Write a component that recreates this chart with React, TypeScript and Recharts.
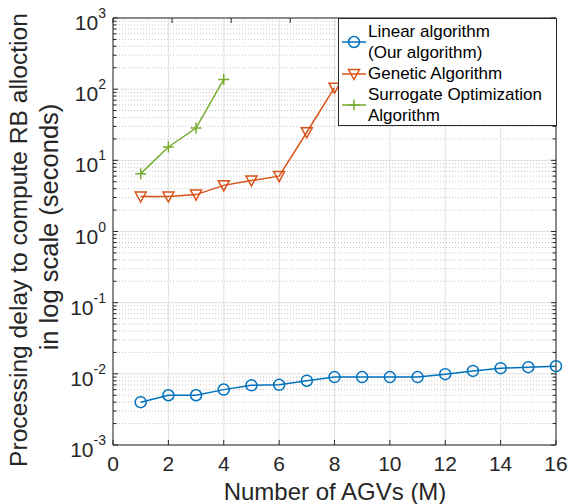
import React from 'react';
import { LineChart, Line, XAxis, YAxis, CartesianGrid, Legend } from 'recharts';

// processing delay (seconds) per number of AGVs
const agvCounts = [1, 2, 3, 4, 5, 6, 7, 8, 9, 10, 11, 12, 13, 14, 15, 16];
const linearDelay = [0.004, 0.005, 0.005, 0.006, 0.0069, 0.007, 0.008, 0.009, 0.009, 0.009, 0.009, 0.0099, 0.011, 0.012, 0.0124, 0.0128];
const geneticDelay = [3.1, 3.1, 3.3, 4.45, 5.2, 6.0, 24.8, 105];
const surrogateDelay = [6.5, 15.4, 28.4, 137];

const xTicks = [0, 2, 4, 6, 8, 10, 12, 14, 16];
const yExponents = [-3, -2, -1, 0, 1, 2, 3];
const minorSteps = [2, 3, 4, 5, 6, 7, 8, 9];

const legendLines = [
  ['Linear algorithm', '(Our algorithm)'],
  ['Genetic Algorithm'],
  ['Surrogate Optimization', 'Algorithm'],
];

const BLUE = '#0072BD';
const RED = '#D95319';
const GREEN = '#77AC30';
const AX = '#262626';
const FONT = '"Liberation Sans", Arial, Helvetica, sans-serif';

const majorY = yExponents.map((e) => Math.pow(10, e));
const minorY = yExponents.slice(0, -1).flatMap((e) => minorSteps.map((m) => m * Math.pow(10, e)));
const allY = [...majorY, ...minorY].sort((a, b) => a - b);

const data = agvCounts.map((m, i) => ({
  m,
  linear: linearDelay[i],
  genetic: geneticDelay[i],
  surrogate: surrogateDelay[i],
}));

const isMajor = (v: number) => Math.abs(Math.log10(v) - Math.round(Math.log10(v))) < 1e-6;

function Marker({ kind, cx, cy, color }: { kind: string; cx: number; cy: number; color: string }) {
  if (kind === 'circle') {
    return <circle cx={cx} cy={cy} r={5.5} fill="none" stroke={color} strokeWidth={1.5} />;
  }
  if (kind === 'tri') {
    return (
      <path
        d={`M${cx - 5.5},${cy - 4.5}L${cx + 5.5},${cy - 4.5}L${cx},${cy + 5.5}Z`}
        fill="none"
        stroke={color}
        strokeWidth={1.5}
      />
    );
  }
  return (
    <g stroke={color} strokeWidth={1.5}>
      <line x1={cx - 5.5} x2={cx + 5.5} y1={cy} y2={cy} />
      <line x1={cx} x2={cx} y1={cy - 5.5} y2={cy + 5.5} />
    </g>
  );
}

const dotOf = (kind: string, color: string) => (p: any) => {
  if (p.cx == null || p.cy == null || p.value == null) return <g key={p.index} />;
  return (
    <g key={p.index}>
      <Marker kind={kind} cx={p.cx} cy={p.cy} color={color} />
    </g>
  );
};

function LeftTick({ x, y, payload }: any) {
  const v = payload.value;
  const major = isMajor(v);
  const e = Math.round(Math.log10(v));
  return (
    <g>
      <line x1={x} x2={x + (major ? 5 : 3.5)} y1={y} y2={y} stroke={AX} />
      {major && (
        <text x={x - 7} y={y + 12} textAnchor="end" fill={AX} fontSize={21} fontFamily={FONT}>
          10<tspan dy={-12} fontSize={14}>{String(e)}</tspan>
        </text>
      )}
    </g>
  );
}

function RightTick({ x, y, payload }: any) {
  const major = isMajor(payload.value);
  return <line x1={x - (major ? 5 : 3.5)} x2={x} y1={y} y2={y} stroke={AX} />;
}

function BottomTick({ x, y, payload }: any) {
  return (
    <g>
      <line x1={x} x2={x} y1={y - 5} y2={y} stroke={AX} />
      <text x={x} y={y + 26} textAnchor="middle" fill={AX} fontSize={21} fontFamily={FONT}>
        {payload.value}
      </text>
    </g>
  );
}

function TopTick({ x, y }: any) {
  return <line x1={x} x2={x} y1={y} y2={y + 5} stroke={AX} />;
}

function LegendBox() {
  const kinds = [
    { kind: 'circle', color: BLUE },
    { kind: 'tri', color: RED },
    { kind: 'plus', color: GREEN },
  ];
  return (
    <div
      style={{
        background: '#fff',
        border: `1px solid ${AX}`,
        boxSizing: 'border-box',
        width: 219,
        height: 108,
        paddingTop: 2,
        fontFamily: FONT,
        fontSize: 17,
        lineHeight: '21px',
        color: '#000',
      }}
    >
      {legendLines.map((lines, i) => (
        <div key={i} style={{ display: 'flex', alignItems: 'center' }}>
          <svg width={29} height={14} style={{ flex: 'none' }}>
            <line x1={3} x2={27} y1={7} y2={7} stroke={kinds[i].color} strokeWidth={1.5} />
            <Marker kind={kinds[i].kind} cx={15} cy={7} color={kinds[i].color} />
          </svg>
          <div style={{ whiteSpace: 'nowrap' }}>
            {lines.map((t) => (
              <div key={t}>{t}</div>
            ))}
          </div>
        </div>
      ))}
    </div>
  );
}

export default function App() {
  return (
    <div style={{ position: 'absolute', left: 0, top: 0, width: 569, height: 504, background: '#fff' }}>
      <LineChart width={569} height={504} data={data} margin={{ top: 17, right: 0, bottom: 0, left: 0 }}>
        <CartesianGrid
          horizontalValues={minorY}
          vertical={false}
          stroke="#c4c4c4"
          strokeDasharray="1 2"
        />
        <CartesianGrid horizontalValues={majorY} verticalValues={xTicks} stroke="#e0e0e0" />
        <XAxis
          dataKey="m"
          type="number"
          domain={[0, 16]}
          ticks={xTicks}
          interval={0}
          height={59}
          tickSize={0}
          tickMargin={0}
          tick={<BottomTick />}
          axisLine={{ stroke: AX }}
        />
        <XAxis
          xAxisId="top"
          orientation="top"
          type="number"
          domain={[0, 16]}
          ticks={xTicks}
          interval={0}
          height={1}
          tickSize={0}
          tickMargin={0}
          tick={<TopTick />}
          axisLine={{ stroke: AX }}
        />
        <YAxis
          type="number"
          scale="log"
          domain={[0.001, 1000]}
          allowDataOverflow
          ticks={allY}
          interval={0}
          width={113}
          tickSize={0}
          tickMargin={0}
          tick={<LeftTick />}
          axisLine={{ stroke: AX }}
        />
        <YAxis
          yAxisId="right"
          orientation="right"
          type="number"
          scale="log"
          domain={[0.001, 1000]}
          allowDataOverflow
          ticks={allY}
          interval={0}
          width={13}
          tickSize={0}
          tickMargin={0}
          tick={<RightTick />}
          axisLine={{ stroke: AX }}
        />
        <Line
          dataKey="linear"
          stroke={BLUE}
          strokeWidth={1.5}
          dot={dotOf('circle', BLUE)}
          isAnimationActive={false}
        />
        <Line
          dataKey="genetic"
          stroke={RED}
          strokeWidth={1.5}
          dot={dotOf('tri', RED)}
          isAnimationActive={false}
        />
        <Line
          dataKey="surrogate"
          stroke={GREEN}
          strokeWidth={1.5}
          dot={dotOf('plus', GREEN)}
          isAnimationActive={false}
        />
        <Legend
          layout="horizontal"
          verticalAlign="middle"
          align="center"
          content={() => <LegendBox />}
          wrapperStyle={{ left: 338, top: 18, width: 219, height: 108 }}
        />
      </LineChart>
      <svg
        width={569}
        height={504}
        style={{ position: 'absolute', left: 0, top: 0, pointerEvents: 'none' }}
      >
        <g fill={AX} fontFamily={FONT} textAnchor="middle">
          <text x={27} y={240} fontSize={24.6} transform="rotate(-90 27 240)">
            Processing delay to compute RB alloction
          </text>
          <text x={58} y={227} fontSize={25.5} transform="rotate(-90 58 227)">
            in log scale (seconds)
          </text>
          <text x={335} y={500} fontSize={24}>Number of AGVs (M)</text>
        </g>
      </svg>
    </div>
  );
}
